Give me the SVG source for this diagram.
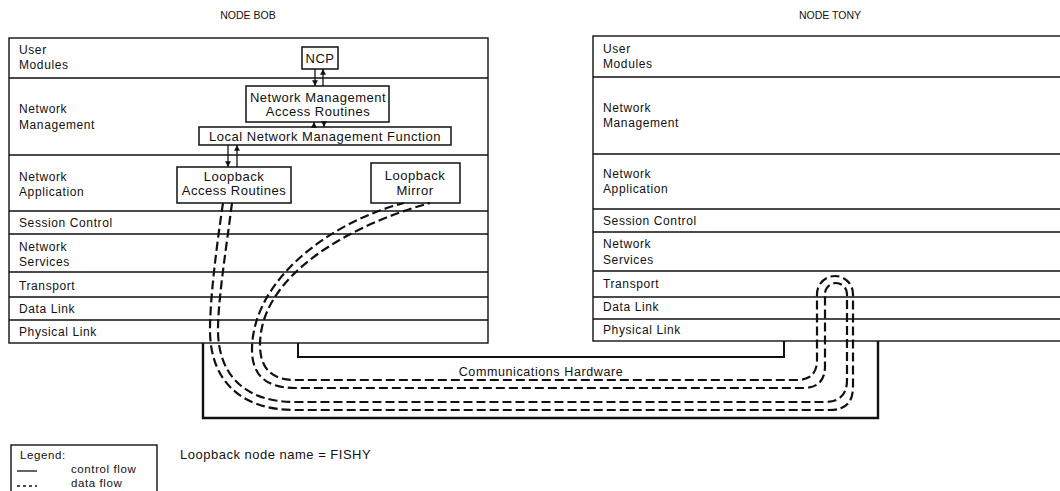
<svg xmlns="http://www.w3.org/2000/svg" width="1060" height="491" viewBox="0 0 1060 491">
<defs>
<style>
text { font-family: "Liberation Sans", Arial, sans-serif; fill:#111; }
.lbl { font-size:12px; letter-spacing:0.6px; }
.bt { font-size:13px; letter-spacing:0.5px; text-anchor:middle; }
.title { font-size:10.5px; text-anchor:middle; }
.box { fill:#fff; stroke:#111; stroke-width:1.5; }
.stack { fill:#fff; stroke:#111; stroke-width:1.4; }
.row { stroke:#111; stroke-width:1.3; fill:none; }
.ctl { stroke:#111; stroke-width:1.3; fill:none; }
.data { fill:none; stroke:#111; stroke-width:2.2; stroke-dasharray:9 4; }
.hw { fill:none; stroke:#111; stroke-width:2.4; }
.leg { font-size:11.5px; letter-spacing:0.6px; }
</style>
<marker id="ah" viewBox="0 0 6 6" refX="6" refY="3" markerWidth="4.5" markerHeight="4.5" orient="auto-start-reverse">
<path d="M0,0 L6,3 L0,6 z" fill="#111"/>
</marker>
</defs>
<rect width="1060" height="491" fill="#fff"/>

<text class="title" x="248" y="19">NODE BOB</text>
<text class="title" x="830" y="19">NODE TONY</text>

<g id="node-bob">
<rect class="stack" x="9" y="38" width="479" height="305"/>
<path class="row" d="M9,78H488M9,155H488M9,211H488M9,234H488M9,272H488M9,297H488M9,320H488"/>
<text class="lbl" x="19" y="54">User</text>
<text class="lbl" x="19" y="69">Modules</text>
<text class="lbl" x="19" y="113">Network</text>
<text class="lbl" x="19" y="129">Management</text>
<text class="lbl" x="19" y="181">Network</text>
<text class="lbl" x="19" y="196">Application</text>
<text class="lbl" x="19" y="227">Session Control</text>
<text class="lbl" x="19" y="251">Network</text>
<text class="lbl" x="19" y="266">Services</text>
<text class="lbl" x="19" y="290">Transport</text>
<text class="lbl" x="19" y="313">Data Link</text>
<text class="lbl" x="19" y="336">Physical Link</text>
</g>

<g id="node-tony">
<rect class="stack" x="593" y="36" width="480" height="305"/>
<path class="row" d="M593,77H1073M593,154H1073M593,209H1073M593,232H1073M593,271H1073M593,297H1073M593,319H1073"/>
<text class="lbl" x="603" y="53">User</text>
<text class="lbl" x="603" y="68">Modules</text>
<text class="lbl" x="603" y="112">Network</text>
<text class="lbl" x="603" y="127">Management</text>
<text class="lbl" x="603" y="178">Network</text>
<text class="lbl" x="603" y="193">Application</text>
<text class="lbl" x="603" y="225">Session Control</text>
<text class="lbl" x="603" y="248">Network</text>
<text class="lbl" x="603" y="264">Services</text>
<text class="lbl" x="603" y="288">Transport</text>
<text class="lbl" x="603" y="311">Data Link</text>
<text class="lbl" x="603" y="334">Physical Link</text>
</g>

<g id="ncp">
<rect class="box" x="302" y="47" width="36" height="22"/>
<text class="bt" x="320" y="63">NCP</text>
</g>
<g id="nm-access-routines">
<rect class="box" x="246" y="86" width="143" height="36"/>
<text class="bt" x="318" y="102">Network Management</text>
<text class="bt" x="318" y="116">Access Routines</text>
</g>
<g id="local-nm-function">
<rect class="box" x="199" y="127" width="252" height="18"/>
<text class="bt" x="325" y="141">Local Network Management Function</text>
</g>
<g id="loopback-access-routines">
<rect class="box" x="177" y="167" width="114" height="36"/>
<text class="bt" x="234" y="181">Loopback</text>
<text class="bt" x="234" y="195">Access Routines</text>
</g>
<g id="loopback-mirror">
<rect class="box" x="371" y="163" width="89" height="40"/>
<text class="bt" x="415" y="180">Loopback</text>
<text class="bt" x="415" y="195">Mirror</text>
</g>

<g id="communications-hardware">
<path class="hw" d="M203,343V418H878V341"/>
<path class="hw" d="M298,343V357H784V341" style="stroke-width:2"/>
<text x="541" y="376" style="font-size:12.5px;letter-spacing:0.6px;text-anchor:middle">Communications Hardware</text>
</g>

<g id="connectors">
<line class="ctl" x1="315" y1="69" x2="315" y2="86" marker-end="url(#ah)"/>
<line class="ctl" x1="323" y1="86" x2="323" y2="69" marker-end="url(#ah)"/>
<line class="ctl" x1="314" y1="127" x2="314" y2="122" marker-end="url(#ah)"/>
<line class="ctl" x1="324" y1="122" x2="324" y2="127" marker-end="url(#ah)"/>
<line class="ctl" x1="228" y1="145" x2="228" y2="167" marker-end="url(#ah)"/>
<line class="ctl" x1="237" y1="167" x2="237" y2="145" marker-end="url(#ah)"/>
<path class="data" d="M223,203 C216,250 210,300 210,330 C210,380 240,410 295,410 H830 Q853,410 853,387 V294 A18,18 0 0 0 817,294 V360 Q817,380 797,380 H295 Q260,380 260,345 C260,275 350,225 430,203"/>
<path class="data" d="M232,203 C226,250 218,300 218,330 C218,375 245,402 295,402 H825 Q847,402 847,380 V294 A11,11 0 0 0 825,294 V366 Q825,388 803,388 H295 Q252,388 252,350 C252,280 330,222 404,203"/>
</g>

<g id="legend">
<rect x="11" y="445" width="146" height="52" fill="#fff" stroke="#111" stroke-width="1.4"/>
<text class="leg" x="20" y="459">Legend:</text>
<line x1="17" y1="471" x2="37" y2="471" stroke="#111" stroke-width="1.3"/>
<text class="leg" x="71" y="473">control flow</text>
<line x1="17" y1="486" x2="37" y2="486" stroke="#111" stroke-width="1.3" stroke-dasharray="3 3"/>
<text class="leg" x="71" y="487">data flow</text>
</g>

<text x="180" y="459" style="font-size:13px;letter-spacing:0.5px">Loopback node name = FISHY</text>
</svg>
